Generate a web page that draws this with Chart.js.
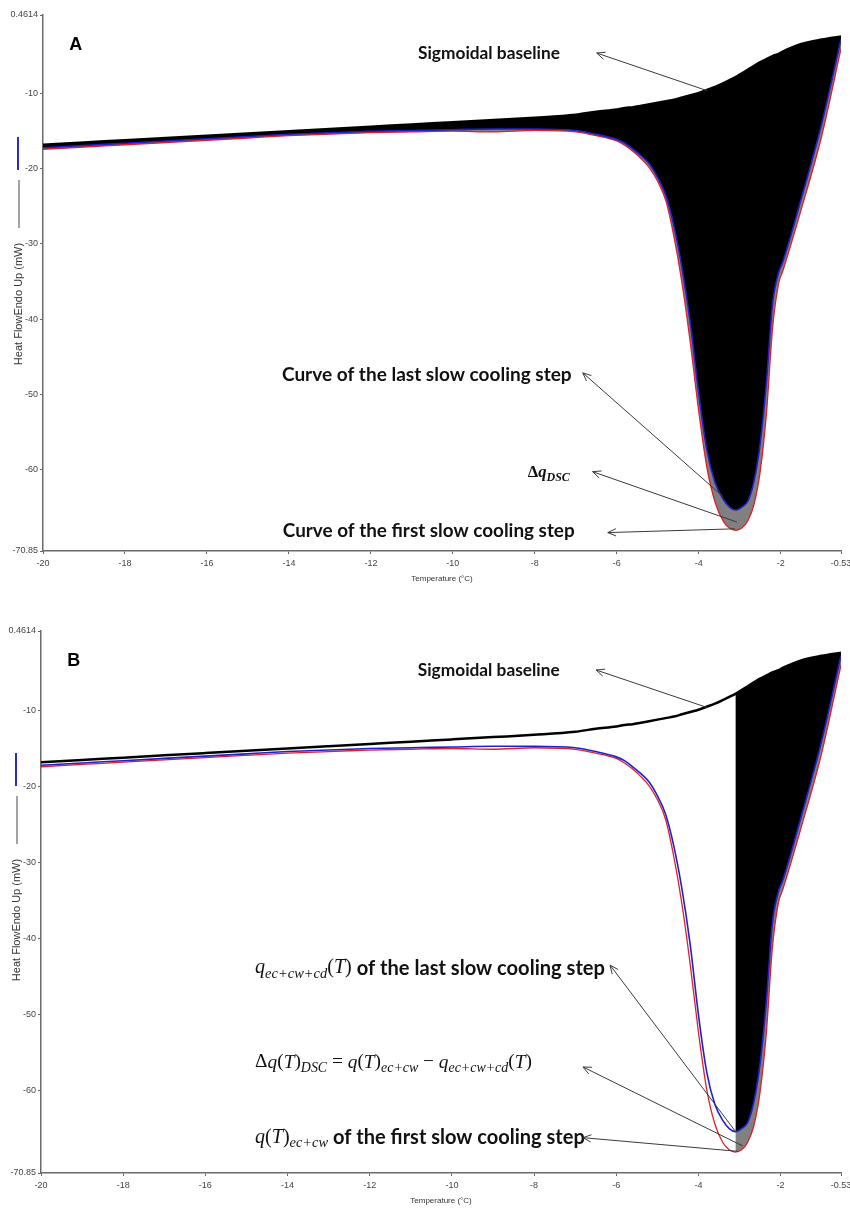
<!DOCTYPE html>
<html><head><meta charset="utf-8">
<script src="https://cdn.jsdelivr.net/npm/chart.js@4.4.1/dist/chart.umd.min.js"></script>
<style>
html,body{margin:0;padding:0;background:#fff;}
#wa{position:absolute;left:0;top:0;width:850px;height:600px;}
#wb{position:absolute;left:0;top:600px;width:850px;height:626px;}
canvas{display:block;}
</style></head><body>
<div id="wa"><canvas id="ca" width="850" height="600"></canvas></div>
<div id="wb"><canvas id="cb" width="850" height="626"></canvas></div>
<script>
// ---- data ----
const temperature = [-20,-19,-18,-17,-16,-15,-14,-13,-12,-11,-10,-9,-8,-7,-6.5,-6,-5.8,-5.6,-5.4,-5.2,-5.0,-4.8,-4.6,-4.4,-4.2,-4.0,-3.8,-3.6,-3.4,-3.25,-3.1,-2.95,-2.8,-2.65,-2.5,-2.35,-2.2,-2.05,-1.95,-1.5,-1.0,-0.53];
const sigmoidalBaseline = [-16.8,-16.5,-16.2,-15.9,-15.6,-15.3,-15.0,-14.7,-14.4,-14.1,-13.8,-13.5,-13.2,-12.8,-12.4,-12.1,-11.9,-11.8,-11.6,-11.4,-11.2,-11.0,-10.8,-10.5,-10.2,-9.9,-9.5,-9.1,-8.6,-8.2,-7.8,-7.3,-6.8,-6.3,-5.8,-5.4,-5.0,-4.7,-4.4,-3.4,-2.8,-2.4];
const lastSlowCooling = [-17.2,-16.9,-16.6,-16.3,-16.0,-15.7,-15.4,-15.2,-15.0,-14.9,-14.8,-14.7,-14.7,-14.9,-15.4,-16.1,-16.6,-17.4,-18.3,-19.4,-21.2,-23.6,-27.8,-33.5,-40.8,-50.0,-57.5,-61.8,-64.0,-65.0,-65.4,-65.0,-64.2,-61.5,-56.5,-48.5,-38.0,-33.8,-32.4,-24.0,-14.0,-2.8];
const firstSlowCooling = [-17.4,-17.1,-16.8,-16.5,-16.2,-15.9,-15.6,-15.4,-15.2,-15.1,-15.0,-15.1,-14.9,-15.1,-15.6,-16.3,-16.9,-17.7,-18.7,-19.9,-21.7,-24.3,-29.2,-35.5,-43.4,-52.3,-59.8,-64.4,-66.9,-67.8,-68.1,-67.8,-66.8,-64.6,-60.2,-52.6,-41.2,-35.2,-33.6,-25.4,-15.6,-4.0];
const xTickValues = [-20,-18,-16,-14,-12,-10,-8,-6,-4,-2,-0.53];
const yTickValues = [0.4614,-10,-20,-30,-40,-50,-60,-70.85];
const splitTemperature = -3.1; // panel B: filled only from here to the right

const SANS = 'Lato, "Open Sans", sans-serif';
const SERIF = '"Liberation Serif", "DejaVu Serif", serif';
const TICKF = '"Liberation Sans Narrow", "Liberation Sans", Arial, sans-serif';

const pts = arr => temperature.map((t,i)=>({x:t,y:arr[i]}));
const ptsR = arr => temperature.map((t,i)=>({x:t,y:arr[i]})).filter(p=>p.x>=splitTemperature);

function fontOf(s, base){ return `${s.st||''} ${(base*(s.r||1)).toFixed(2)}px ${s.fam||SANS}`; }
function drawRich(ctx, segs, x, y, width){
  let w=0;
  for (const s of segs){ ctx.font = fontOf(s,100); w += ctx.measureText(s.t).width; }
  const base = 100*width/w;
  let cx = x;
  ctx.textBaseline='middle'; ctx.textAlign='left'; ctx.fillStyle='#111';
  for (const s of segs){ ctx.font = fontOf(s,base); ctx.fillText(s.t, cx, y+(s.dy||0)*base); cx += ctx.measureText(s.t).width; }
}
function arrow(ctx,x1,y1,x2,y2){
  ctx.strokeStyle='#3a3a3a'; ctx.lineWidth=1;
  ctx.beginPath(); ctx.moveTo(x1,y1); ctx.lineTo(x2,y2); ctx.stroke();
  const a=Math.atan2(y2-y1,x2-x1), L=9, w=0.42;
  ctx.beginPath();
  ctx.moveTo(x2-L*Math.cos(a-w), y2-L*Math.sin(a-w)); ctx.lineTo(x2,y2);
  ctx.lineTo(x2-L*Math.cos(a+w), y2-L*Math.sin(a+w)); ctx.stroke();
}
const B = 'bold', I = 'italic', BI = 'bold italic';
const notesA = [
  {segs:[{t:'Sigmoidal baseline',st:B}], at:[-10.85,-4.6], width:142, tip:[-6.49,-4.6], tail:[-3.8,-9.6]},
  {segs:[{t:'Curve of the last slow cooling step',st:B}], at:[-14.17,-47.4], width:290, tip:[-6.83,-47.15], tail:[-3.41,-63.6]},
  {segs:[{t:'Δ',st:B,fam:SERIF},{t:'q',st:BI,fam:SERIF},{t:'DSC',st:BI,fam:SERIF,r:0.72,dy:0.3}], at:[-8.17,-60.4], width:42, tip:[-6.59,-60.3], tail:[-3.07,-67.0]},
  {segs:[{t:'Curve of the first slow cooling step',st:B}], at:[-14.15,-68.2], width:292, tip:[-6.22,-68.4], tail:[-3.12,-67.9]}
];
const notesB = [
  {segs:[{t:'Sigmoidal baseline',st:B}], at:[-10.83,-4.67], width:142, tip:[-6.49,-4.67], tail:[-3.79,-9.6]},
  {segs:[{t:'q',st:I,fam:SERIF},{t:'ec+cw+cd',st:I,fam:SERIF,r:0.72,dy:0.3},{t:'(',fam:SERIF},{t:'T',st:I,fam:SERIF},{t:')',fam:SERIF},{t:' of the last slow cooling step',st:B}], at:[-14.79,-43.9], width:350, tip:[-6.15,-43.5], tail:[-3.11,-65.3]},
  {segs:[{t:'Δ',fam:SERIF},{t:'q',st:I,fam:SERIF},{t:'(',fam:SERIF},{t:'T',st:I,fam:SERIF},{t:')',fam:SERIF},{t:'DSC',st:I,fam:SERIF,r:0.72,dy:0.3},{t:' = ',fam:SERIF},{t:'q',st:I,fam:SERIF},{t:'(',fam:SERIF},{t:'T',st:I,fam:SERIF},{t:')',fam:SERIF},{t:'ec+cw',st:I,fam:SERIF,r:0.72,dy:0.3},{t:' − ',fam:SERIF},{t:'q',st:I,fam:SERIF},{t:'ec+cw+cd',st:I,fam:SERIF,r:0.72,dy:0.3},{t:'(',fam:SERIF},{t:'T',st:I,fam:SERIF},{t:')',fam:SERIF}], at:[-14.79,-56.3], width:277, tip:[-6.81,-56.9], tail:[-2.92,-67.3]},
  {segs:[{t:'q',st:I,fam:SERIF},{t:'(',fam:SERIF},{t:'T',st:I,fam:SERIF},{t:')',fam:SERIF},{t:'ec+cw',st:I,fam:SERIF,r:0.72,dy:0.3},{t:' of the first slow cooling step',st:B}], at:[-14.79,-66.2], width:330, tip:[-6.81,-66.2], tail:[-3.04,-68.0]}
];

function notesPlugin(letter, notes){
  return {
    id:'notes'+letter,
    afterDraw(chart){
      const ctx=chart.ctx, xs=chart.scales.x, ys=chart.scales.y, ca=chart.chartArea;
      const px=v=>xs.getPixelForValue(v), py=v=>ys.getPixelForValue(v);
      ctx.save();
      ctx.fillStyle='#000'; ctx.font='bold 18px "Liberation Sans", Arial, sans-serif';
      ctx.textAlign='center'; ctx.textBaseline='middle';
      ctx.fillText(letter, px(-19.2), py(-3.5));
      for (const n of notes){
        drawRich(ctx, n.segs, px(n.at[0]), py(n.at[1]), n.width);
        arrow(ctx, px(n.tail[0]), py(n.tail[1]), px(n.tip[0]), py(n.tip[1]));
      }
      const lx = ca.left-25;
      ctx.strokeStyle='#2a2ac8'; ctx.lineWidth=2;
      ctx.beginPath(); ctx.moveTo(lx, ca.top+122); ctx.lineTo(lx, ca.top+155); ctx.stroke();
      ctx.strokeStyle='#444'; ctx.lineWidth=1;
      ctx.beginPath(); ctx.moveTo(lx+1, ca.top+165); ctx.lineTo(lx+1, ca.top+213); ctx.stroke();
      ctx.save();
      ctx.translate(lx+1, ca.top+289); ctx.rotate(-Math.PI/2);
      ctx.fillStyle='#333'; ctx.font='11px "Liberation Sans", Arial, sans-serif';
      ctx.textAlign='center'; ctx.textBaseline='middle';
      ctx.fillText('Heat FlowEndo Up (mW)',0,0);
      ctx.restore();
      ctx.fillStyle='#333'; ctx.font='8px "Liberation Sans", Arial, sans-serif';
      ctx.textAlign='center'; ctx.textBaseline='middle';
      ctx.fillText('Temperature (°C)', (ca.left+ca.right)/2, ca.bottom+28);
      ctx.restore();
    }
  };
}

function scalesFor(yW, xH){
  const tickFont = {family:TICKF, size:9};
  return {
    x:{type:'linear', min:-20, max:-0.53,
       afterBuildTicks:s=>{s.ticks=xTickValues.map(v=>({value:v}));},
       afterFit:s=>{s.height=xH; s.paddingLeft=0; s.paddingRight=0;},
       ticks:{autoSkip:false, maxRotation:0, font:tickFont, color:'#444', padding:4, callback:v=>String(v)},
       grid:{drawOnChartArea:false, drawTicks:true, tickLength:3, color:'#666'},
       border:{color:'#6a6a6a', width:1.5}},
    y:{type:'linear', min:-70.85, max:0.4614,
       afterBuildTicks:s=>{s.ticks=yTickValues.map(v=>({value:v}));},
       afterFit:s=>{s.width=yW; s.paddingTop=0; s.paddingBottom=0;},
       ticks:{autoSkip:false, font:tickFont, color:'#444', padding:2, callback:v=>String(v)},
       grid:{drawOnChartArea:false, drawTicks:true, tickLength:3, color:'#666'},
       border:{color:'#6a6a6a', width:1.5}}
  };
}
const common = {responsive:false, animation:false, devicePixelRatio:1,
  plugins:{legend:{display:false}, tooltip:{enabled:false}},
  elements:{point:{radius:0}, line:{cubicInterpolationMode:'monotone'}}};

new Chart(document.getElementById('ca'), {
  type:'line',
  data:{datasets:[
    {data:pts(sigmoidalBaseline), borderColor:'#000', borderWidth:2.5, fill:false},
    {data:pts(lastSlowCooling), borderColor:'#2020d0', borderWidth:1.6, fill:{target:0}, backgroundColor:'#000'},
    {data:pts(firstSlowCooling), borderColor:'#e02028', borderWidth:1.3, fill:{target:1}, backgroundColor:'#808080'}
  ]},
  options:Object.assign({}, common, {layout:{padding:{top:15,right:9,bottom:0,left:0}}, scales:scalesFor(43,49)}),
  plugins:[notesPlugin('A', notesA)]
});

new Chart(document.getElementById('cb'), {
  type:'line',
  data:{datasets:[
    {data:pts(sigmoidalBaseline), borderColor:'#000', borderWidth:2.5, fill:false},
    {data:pts(lastSlowCooling), borderColor:'#2020d0', borderWidth:1.6, fill:false},
    {data:pts(firstSlowCooling), borderColor:'#e02028', borderWidth:1.3, fill:false},
    {data:ptsR(sigmoidalBaseline), borderColor:'rgba(0,0,0,0)', borderWidth:0, fill:false},
    {data:ptsR(lastSlowCooling), borderColor:'rgba(0,0,0,0)', borderWidth:0, fill:{target:3}, backgroundColor:'#000'},
    {data:ptsR(firstSlowCooling), borderColor:'rgba(0,0,0,0)', borderWidth:0, fill:{target:4}, backgroundColor:'#808080'}
  ]},
  options:Object.assign({}, common, {layout:{padding:{top:31,right:9,bottom:0,left:0}}, scales:scalesFor(41,53)}),
  plugins:[notesPlugin('B', notesB)]
});
</script>
</body></html>
